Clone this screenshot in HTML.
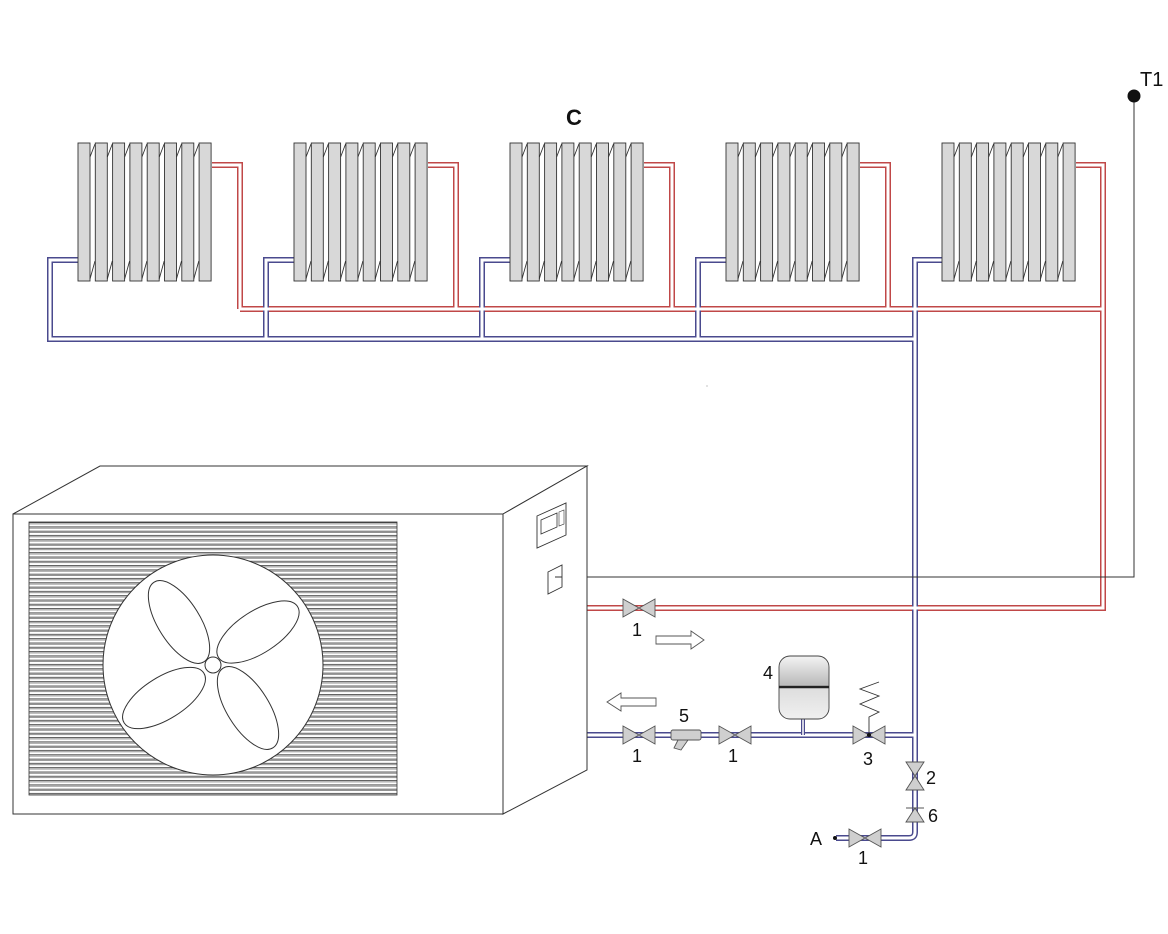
<!DOCTYPE html>
<html><head><meta charset="utf-8"><style>
html,body{margin:0;padding:0;background:#fff;}
svg{display:block;}
text{font-family:"Liberation Sans",sans-serif;fill:#111;}
</style></head><body>
<svg width="1168" height="934" viewBox="0 0 1168 934" xmlns="http://www.w3.org/2000/svg">
<defs>
<pattern id="grille" x="0" y="522" width="10" height="4.3" patternUnits="userSpaceOnUse">
<line x1="0" y1="0.6" x2="10" y2="0.6" stroke="#333" stroke-width="0.8"/>
<line x1="0" y1="1.9" x2="10" y2="1.9" stroke="#666" stroke-width="0.7"/>
</pattern>
<linearGradient id="tank" x1="0" y1="0" x2="0" y2="1">
<stop offset="0" stop-color="#f4f4f4"/><stop offset="0.45" stop-color="#bbb"/><stop offset="0.5" stop-color="#ddd"/><stop offset="1" stop-color="#f0f0f0"/>
</linearGradient>
<g id="rad">
<rect x="0" y="0" width="12" height="138" fill="#d8d8d8" stroke="#333" stroke-width="0.9"/>
<rect x="17.3" y="0" width="12" height="138" fill="#d8d8d8" stroke="#333" stroke-width="0.9"/>
<rect x="34.6" y="0" width="12" height="138" fill="#d8d8d8" stroke="#333" stroke-width="0.9"/>
<rect x="51.9" y="0" width="12" height="138" fill="#d8d8d8" stroke="#333" stroke-width="0.9"/>
<rect x="69.2" y="0" width="12" height="138" fill="#d8d8d8" stroke="#333" stroke-width="0.9"/>
<rect x="86.5" y="0" width="12" height="138" fill="#d8d8d8" stroke="#333" stroke-width="0.9"/>
<rect x="103.8" y="0" width="12" height="138" fill="#d8d8d8" stroke="#333" stroke-width="0.9"/>
<rect x="121.1" y="0" width="12" height="138" fill="#d8d8d8" stroke="#333" stroke-width="0.9"/>
<path d="M12 14L17 1M29.3 14L34.3 1M46.6 14L51.6 1M63.9 14L68.9 1M81.2 14L86.2 1M98.5 14L103.5 1M115.8 14L120.8 1M12 136L17 118M29.3 136L34.3 118M46.6 136L51.6 118M63.9 136L68.9 118M81.2 136L86.2 118M98.5 136L103.5 118M115.8 136L120.8 118" stroke="#333" stroke-width="0.9" fill="none"/>
</g>
<g id="vh"><path d="M-16 -9L0 0L-16 9Z M16 -9L0 0L16 9Z" fill="#cfcfcf" stroke="#555" stroke-width="0.9"/></g>
<g id="vv"><path d="M-9 -14L0 0L9 -14Z M-9 14L0 0L9 14Z" fill="#cfcfcf" stroke="#555" stroke-width="0.9"/></g>
</defs>

<g fill="none" stroke-linejoin="miter">
<g stroke="#c04848" stroke-width="6">
<path d="M212 165H240V309"/><path d="M428 165H456V309"/><path d="M644 165H672V309"/><path d="M860 165H888V309"/>
<path d="M1076 165H1103V608H587"/>
<path d="M240 309H1103"/>
</g>
<g stroke="#4a4a8e" stroke-width="6">
<path d="M78 260H50V339H915"/><path d="M294 260H266V339"/><path d="M510 260H482V339"/><path d="M726 260H698V339"/>
<path d="M942 260H915V735H587"/>
<path d="M915 735V832Q915 838 909 838H836"/>
</g>
<g stroke="#fff" stroke-width="3">
<path d="M212 165H240V309"/><path d="M428 165H456V309"/><path d="M644 165H672V309"/><path d="M860 165H888V309"/>
<path d="M1076 165H1103V608H587"/>
<path d="M240 309H1103"/>
<path d="M78 260H50V339H915"/><path d="M294 260H266V339"/><path d="M510 260H482V339"/><path d="M726 260H698V339"/>
<path d="M942 260H915V735H587"/>
<path d="M915 735V832Q915 838 909 838H836"/>
</g>
</g>

<use href="#rad" x="78" y="143"/>
<use href="#rad" x="294" y="143"/>
<use href="#rad" x="510" y="143"/>
<use href="#rad" x="726" y="143"/>
<use href="#rad" x="942" y="143"/>
<text x="566" y="125" font-size="22" font-weight="bold">C</text>

<path d="M562 577H1134V96" fill="none" stroke="#333" stroke-width="1"/>
<circle cx="1134" cy="96" r="6.5" fill="#111"/>
<text x="1140" y="86" font-size="20">T1</text>

<g fill="#fff" stroke="#333" stroke-width="1">
<path d="M13 514L100 466H587L503 514Z"/>
<path d="M503 514L587 466V770L503 814Z"/>
<rect x="13" y="514" width="490" height="300"/>
</g>
<rect x="29" y="522" width="368" height="273" fill="url(#grille)" stroke="#333" stroke-width="0.8"/>
<circle cx="213" cy="665" r="110" fill="#fff" stroke="#333" stroke-width="1"/>
<g fill="none" stroke="#333" stroke-width="1">
<ellipse cx="0" cy="0" rx="47" ry="21" transform="translate(179,622) rotate(-122)"/>
<ellipse cx="0" cy="0" rx="47" ry="21" transform="translate(258,632) rotate(-33)"/>
<ellipse cx="0" cy="0" rx="47" ry="21" transform="translate(164,698) rotate(148)"/>
<ellipse cx="0" cy="0" rx="47" ry="21" transform="translate(248,708) rotate(58)"/>
</g>
<circle cx="213" cy="665" r="8" fill="#fff" stroke="#333" stroke-width="1"/>
<path d="M537 516L566 503V535L537 548Z" fill="#fff" stroke="#333" stroke-width="0.9"/>
<path d="M541 520L557 513V527L541 534Z" fill="#fff" stroke="#333" stroke-width="0.8"/>
<path d="M559 512L564 510V524L559 526Z" fill="none" stroke="#333" stroke-width="0.6"/>
<path d="M548 572L562 565V587L548 594Z" fill="#fff" stroke="#333" stroke-width="0.9"/>
<line x1="555" y1="577" x2="562" y2="577" stroke="#333"/>

<use href="#vh" x="639" y="608"/>
<use href="#vh" x="639" y="735"/>
<use href="#vh" x="735" y="735"/>
<use href="#vh" x="869" y="735"/>
<use href="#vh" x="865" y="838"/>
<use href="#vv" x="915" y="776"/>
<path d="M906 822L915 808L924 822Z" fill="#cfcfcf" stroke="#555" stroke-width="0.9"/>
<line x1="906" y1="808" x2="924" y2="808" stroke="#555"/>
<circle cx="869" cy="735" r="2" fill="#111"/>
<circle cx="835" cy="838" r="2" fill="#111"/>
<path d="M869 733V717L879 712L860 704L879 696L860 689L879 682" fill="none" stroke="#333" stroke-width="0.9"/>
<rect x="671" y="730" width="30" height="10" rx="2" fill="#cfcfcf" stroke="#555" stroke-width="0.9"/>
<path d="M678 740L674 748L681 750L688 740Z" fill="#cfcfcf" stroke="#555" stroke-width="0.9"/>
<line x1="803" y1="719" x2="803" y2="735" stroke="#4a4a8e" stroke-width="4"/>
<line x1="803" y1="719" x2="803" y2="735" stroke="#fff" stroke-width="1.5"/>
<rect x="779" y="656" width="50" height="63" rx="11" fill="url(#tank)" stroke="#444" stroke-width="0.9"/>
<line x1="779" y1="687" x2="829" y2="687" stroke="#222" stroke-width="2.5"/>
<path d="M656 636H691V631L704 640L691 649V644H656Z" fill="#fff" stroke="#555" stroke-width="0.9"/>
<path d="M656 698H621V693L607 702L621 711V706H656Z" fill="#fff" stroke="#555" stroke-width="0.9"/>

<g font-size="18">
<text x="632" y="636">1</text>
<text x="632" y="762">1</text>
<text x="728" y="762">1</text>
<text x="679" y="722">5</text>
<text x="763" y="679">4</text>
<text x="863" y="765">3</text>
<text x="926" y="784">2</text>
<text x="928" y="822">6</text>
<text x="810" y="845">A</text>
<text x="858" y="864">1</text>
</g>
<circle cx="707" cy="386" r="0.6" fill="#999"/>
</svg>
</body></html>
